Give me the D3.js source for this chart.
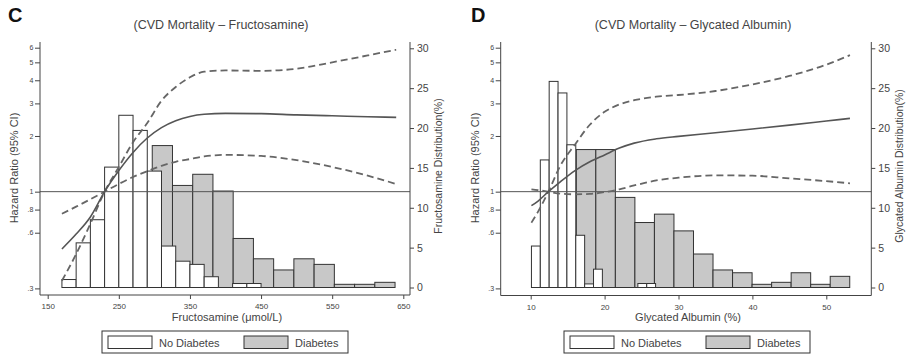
<!DOCTYPE html>
<html>
<head>
<meta charset="utf-8">
<script src="https://cdn.jsdelivr.net/npm/d3@7"></script>
<style>
  body { margin: 0; background: #fff; }
  svg text { font-family: "Liberation Sans", Arial, sans-serif; fill: #444; }
</style>
</head>
<body>
<svg id="chart" width="916" height="361"></svg>
<script>
// ---- panel C : fructosamine ----
var fruNoDiabStart = 170, fruNoDiabWidth = 20;
var fruNoDiab = [1.0, 5.6, 8.5, 15.1, 21.6, 19.7, 14.6, 5.2, 3.3, 2.9, 1.35, 0, 0.5, 0.5];
var fruDiabStart = 297, fruDiabWidth = 28.45;
var fruDiab = [17.8, 12.8, 14.2, 12.1, 6.15, 3.6, 2.2, 3.6, 2.9, 0.4, 0.4, 0.65];

var fruX   = [170, 190, 210, 230, 250, 270, 290, 310, 330, 350, 370, 400, 450, 500, 550, 600, 640];
var fruHR  = [0.49, 0.59, 0.73, 1.0, 1.3, 1.63, 1.95, 2.22, 2.42, 2.55, 2.62, 2.65, 2.64, 2.6, 2.57, 2.54, 2.52];
var fruUp  = [0.33, 0.46, 0.67, 1.0, 1.36, 1.85, 2.35, 3.1, 3.68, 4.15, 4.45, 4.52, 4.5, 4.62, 5.0, 5.45, 5.85];
var fruLow = [0.76, 0.83, 0.91, 1.0, 1.1, 1.2, 1.29, 1.38, 1.45, 1.5, 1.55, 1.58, 1.56, 1.48, 1.36, 1.22, 1.1];
var fruXTicks = [150, 250, 350, 450, 550, 650];

// ---- panel D : glycated albumin ----
var gaNoDiabStart = 10.1, gaNoDiabWidth = 1.2;
var gaNoDiab = [5.2, 16.0, 25.85, 24.4, 17.9, 6.55, 0.45, 2.3, 0, 0, 0, 0, 0.5, 0.5];
var gaDiabStart = 16.17, gaDiabWidth = 2.643;
var gaDiab = [17.3, 17.3, 11.3, 8.15, 9.2, 7.1, 4.2, 2.2, 1.85, 0.4, 0.65, 1.85, 0.4, 1.4];

var gaX   = [10.1, 11, 12.4, 14, 16, 18, 20, 22, 24, 27, 30, 35, 40, 45, 50, 53.2];
var gaHR  = [0.84, 0.89, 1.0, 1.13, 1.3, 1.45, 1.58, 1.72, 1.83, 1.93, 1.99, 2.08, 2.18, 2.29, 2.41, 2.49];
var gaUp  = [0.68, 0.78, 1.0, 1.38, 1.8, 2.3, 2.7, 2.96, 3.12, 3.26, 3.33, 3.5, 3.8, 4.22, 4.86, 5.47];
var gaLow = [1.03, 1.02, 1.0, 0.975, 0.968, 0.972, 0.995, 1.03, 1.08, 1.15, 1.19, 1.225, 1.22, 1.18, 1.14, 1.11];
var gaXTicks = [10, 20, 30, 40, 50];

var hrTicks = [0.3, 0.6, 0.8, 1, 2, 3, 4, 5, 6];
var hrLabels = [".3", ".6", ".8", "1", "2", "3", "4", "5", "6"];
var pctTicks = [0, 5, 10, 15, 20, 25, 30];
var legendNames = ["No Diabetes", "Diabetes"];

var svg = d3.select("#chart");
var grayFill = "#c8c8c8";

function drawPanel(p) {
  var g = svg.append("g");
  var x = d3.scaleLinear().domain(p.xDomain).range(p.xRange);
  var yL = d3.scaleLog().domain([0.3, 6]).range([288.4, 47.7]);
  var yR = d3.scaleLinear().domain([0, 30]).range([287.5, 48.3]);

  // histogram bars: diabetes behind, no diabetes in front
  function bars(vals, start, width, fill) {
    var bins = vals.map((v, i) => ({ v: v, x0: start + i * width, x1: start + (i + 1) * width }))
      .filter(d => d.v > 0);
    g.append("g").selectAll("rect").data(bins).enter().append("rect")
      .attr("x", d => x(d.x0))
      .attr("width", d => x(d.x1) - x(d.x0))
      .attr("y", d => yR(d.v))
      .attr("height", d => yR(0) - yR(d.v))
      .attr("fill", fill).attr("stroke", "#333").attr("stroke-width", 1);
  }
  bars(p.diab, p.diabStart, p.diabWidth, grayFill);
  bars(p.noDiab, p.noStart, p.noWidth, "#fff");

  // reference line at HR = 1
  g.append("line")
    .attr("x1", p.left).attr("x2", p.right)
    .attr("y1", yL(1)).attr("y2", yL(1))
    .attr("stroke", "#555").attr("stroke-width", 1);

  var line = (ys) => d3.line()
    .x((d, i) => x(p.cx[i]))
    .y(d => yL(d))
    .curve(d3.curveMonotoneX)(ys);

  [p.up, p.low].forEach(function(ys) {
    g.append("path").attr("d", line(ys))
      .attr("fill", "none").attr("stroke", "#666")
      .attr("stroke-width", 1.8).attr("stroke-dasharray", "7,4");
  });
  g.append("path").attr("d", line(p.hr))
    .attr("fill", "none").attr("stroke", "#555").attr("stroke-width", 1.6);

  // axes
  var axL = g.append("g").attr("transform", "translate(" + p.left + ",0)")
    .call(d3.axisLeft(yL).tickValues(hrTicks).tickFormat((d, i) => hrLabels[i]).tickSize(5).tickSizeOuter(0));
  axL.select(".domain").remove();
  axL.append("line").attr("x1", 0).attr("x2", 0).attr("y1", 42).attr("y2", p.bottom).attr("stroke", "#444");
  axL.selectAll("text").style("font-size", "7px").attr("dx", "0.2em");
  axL.selectAll(".tick line").attr("stroke", "#444");

  var axR = g.append("g").attr("transform", "translate(" + p.right + ",0)")
    .call(d3.axisRight(yR).tickValues(pctTicks).tickSize(4).tickSizeOuter(0));
  axR.select(".domain").remove();
  axR.append("line").attr("x1", 0).attr("x2", 0).attr("y1", 42).attr("y2", p.bottom).attr("stroke", "#444");
  axR.selectAll("text").style("font-size", "10.5px");
  axR.selectAll(".tick line").attr("stroke", "#444");

  var axB = g.append("g").attr("transform", "translate(0," + p.bottom + ")")
    .call(d3.axisBottom(x).tickValues(p.xTicks).tickSize(4).tickSizeOuter(0));
  axB.select(".domain").remove();
  axB.append("line").attr("x1", p.left).attr("x2", p.right).attr("y1", 0).attr("y2", 0).attr("stroke", "#444");
  axB.selectAll("text").style("font-size", "8px").attr("dy", "0.9em");
  axB.selectAll(".tick line").attr("stroke", "#444");

  // titles
  g.append("text").attr("x", p.letterX).attr("y", 22)
    .style("font-size", "20px").style("font-weight", "bold").style("fill", "#111").text(p.letter);
  g.append("text").attr("x", p.titleX).attr("y", 29).attr("text-anchor", "middle")
    .style("font-size", "12.5px").text(p.title);
  g.append("text").attr("x", (p.left + p.right) / 2 + 2).attr("y", 321).attr("text-anchor", "middle")
    .style("font-size", "11px").text(p.xTitle);
  g.append("text").attr("transform", "translate(" + (p.left - 22) + ",168) rotate(-90)")
    .attr("text-anchor", "middle").style("font-size", "11px").text("Hazard Ratio (95% CI)");
  g.append("text").attr("transform", "translate(" + (p.right + 32) + ",166) rotate(-90)")
    .attr("text-anchor", "middle").style("font-size", "10.5px").text(p.rTitle);

  // legend
  var lg = g.append("g").attr("transform", "translate(" + p.legX + ",331)");
  lg.append("rect").attr("width", 246).attr("height", 22).attr("fill", "#fff").attr("stroke", "#333");
  [0, 1].forEach(function(i) {
    lg.append("rect").attr("x", 6 + i * 136).attr("y", 5).attr("width", 44).attr("height", 12.5)
      .attr("fill", i ? grayFill : "#fff").attr("stroke", "#333");
    lg.append("text").attr("x", 57 + i * 136).attr("y", 15.5)
      .style("font-size", "11px").text(legendNames[i]);
  });
}

drawPanel({
  xDomain: [150, 650], xRange: [47.7, 403.3], left: 40, right: 410, bottom: 295,
  noDiab: fruNoDiab, noStart: fruNoDiabStart, noWidth: fruNoDiabWidth,
  diab: fruDiab, diabStart: fruDiabStart, diabWidth: fruDiabWidth,
  cx: fruX, hr: fruHR, up: fruUp, low: fruLow, xTicks: fruXTicks,
  letter: "C", letterX: 8, title: "(CVD Mortality \u2013 Fructosamine)", titleX: 221,
  xTitle: "Fructosamine (\u03bcmol/L)", rTitle: "Fructosamine Distribution(%)", legX: 102
});

drawPanel({
  xDomain: [10, 50], xRange: [530.7, 826.3], left: 500.7, right: 871.3, bottom: 295.5,
  noDiab: gaNoDiab, noStart: gaNoDiabStart, noWidth: gaNoDiabWidth,
  diab: gaDiab, diabStart: gaDiabStart, diabWidth: gaDiabWidth,
  cx: gaX, hr: gaHR, up: gaUp, low: gaLow, xTicks: gaXTicks,
  letter: "D", letterX: 471, title: "(CVD Mortality \u2013 Glycated Albumin)", titleX: 693,
  xTitle: "Glycated Albumin (%)", rTitle: "Glycated Albumin Distribution(%)", legX: 564
});
</script>
</body>
</html>
